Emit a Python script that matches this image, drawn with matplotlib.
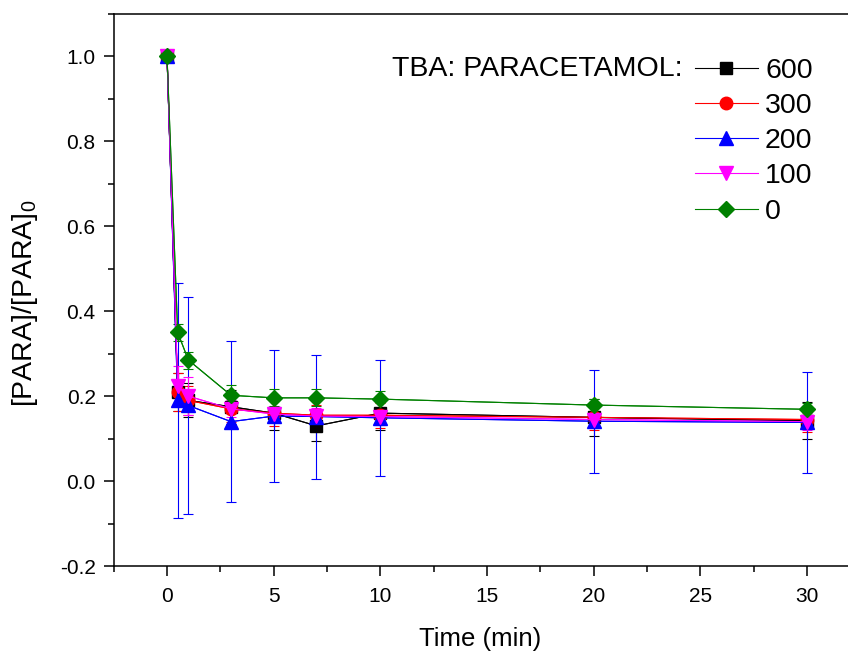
import numpy as np
import matplotlib
matplotlib.use("Agg")
import matplotlib.pyplot as plt
from matplotlib.ticker import MultipleLocator, FormatStrFormatter

plt.rcParams["font.family"] = ["Liberation Sans", "DejaVu Sans"]
plt.rcParams["axes.unicode_minus"] = False

time_min = [0, 0.5, 1, 3, 5, 7, 10, 20, 30]
ratios = ["600", "300", "200", "100", "0"]

para_600 = [1.0, 0.21, 0.19, 0.175, 0.16, 0.13, 0.16, 0.15, 0.142]
para_300 = [1.0, 0.21, 0.19, 0.17, 0.16, 0.155, 0.155, 0.15, 0.145]
para_200 = [1.0, 0.19, 0.178, 0.14, 0.153, 0.152, 0.149, 0.141, 0.138]
para_100 = [1.0, 0.225, 0.20, 0.17, 0.158, 0.153, 0.152, 0.145, 0.14]
para_0 = [1.0, 0.35, 0.285, 0.202, 0.196, 0.196, 0.193, 0.179, 0.169]

err_600 = [0, 0.045, 0.04, 0.04, 0.04, 0.035, 0.04, 0.043, 0.044]
err_300 = [0, 0.045, 0.035, 0.03, 0.03, 0.025, 0.03, 0.03, 0.03]
err_200 = [0, 0.276, 0.256, 0.19, 0.155, 0.146, 0.137, 0.121, 0.118]
err_100 = [0, 0.045, 0.045, 0.02, 0.015, 0.02, 0.02, 0.02, 0.02]
err_0 = [0, 0.02, 0.02, 0.024, 0.02, 0.02, 0.02, 0.015, 0.015]

series = [
    (para_600, err_600, "black", "s", 8.5),
    (para_300, err_300, "red", "o", 9),
    (para_200, err_200, "blue", "^", 10.5),
    (para_100, err_100, "magenta", "v", 10.5),
    (para_0, err_0, "green", "D", 8),
]

fig = plt.figure(figsize=(8.48, 6.55), dpi=100)
ax = fig.add_axes([113.7 / 848, 89 / 655, 746.7 / 848, 552 / 655])

handles = []
for (y, e, c, m, ms), lab in zip(series, ratios):
    ax.errorbar(time_min, y, yerr=e, color=c, ecolor=c, elinewidth=0.8,
                capsize=3.6, capthick=0.8, lw=0.8, zorder=2)
    h, = ax.plot(time_min, y, color=c, lw=0.8, marker=m, markersize=ms,
                 markeredgecolor=c, markerfacecolor=c, label=lab, zorder=3)
    handles.append(h)

ax.set_xlim(-2.5, 32.5)
ax.set_ylim(-0.2, 1.1)
ax.xaxis.set_major_locator(MultipleLocator(5))
ax.xaxis.set_minor_locator(MultipleLocator(2.5))
ax.yaxis.set_major_locator(MultipleLocator(0.2))
ax.yaxis.set_minor_locator(MultipleLocator(0.1))
ax.yaxis.set_major_formatter(FormatStrFormatter("%.1f"))
ax.tick_params(which="major", direction="out", length=7, width=1.1, labelsize=15)
ax.tick_params(which="minor", direction="out", length=4, width=1.1)
ax.tick_params(axis="x", which="major", pad=8)
ax.tick_params(axis="y", which="major", pad=6)
ax.tick_params(top=False, right=False)
for s in ax.spines.values():
    s.set_linewidth(1.1)

ax.set_xlabel("Time (min)", fontsize=18.5)
ax.set_ylabel(r"[PARA]/[PARA]$_\mathregular{0}$", fontsize=20.5)
ax.xaxis.set_label_coords((480 - 113.7) / 746.7, -0.11)
ax.yaxis.set_label_coords(-0.099, 0.475)

leg = ax.legend(handles=handles, loc="upper left",
                bbox_to_anchor=(695 / 848, 1 - 57.5 / 655),
                bbox_transform=fig.transFigure, frameon=False, fontsize=20.5,
                borderpad=0, borderaxespad=0, handlelength=2.21,
                handletextpad=0.25, labelspacing=0.325)
fig.text(683 / 848, 1 - 69 / 655, "TBA: PARACETAMOL:", fontsize=20.5,
         ha="right", va="center")

fig.savefig("out.png", dpi=100)
